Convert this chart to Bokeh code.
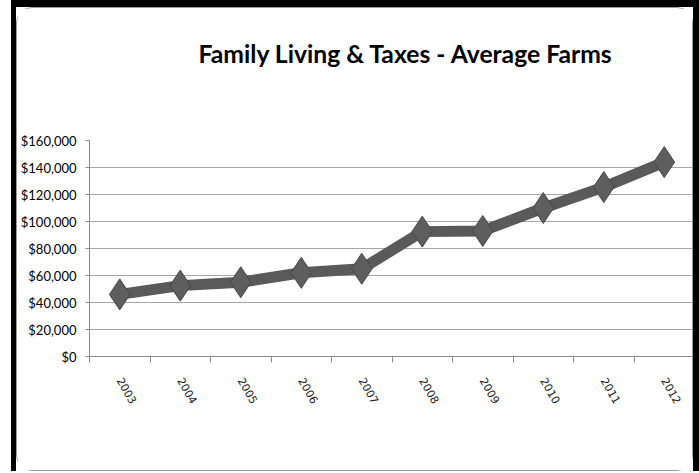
from bokeh.plotting import figure
from bokeh.layouts import column, row
from bokeh.models import FixedTicker, NumeralTickFormatter, Range1d, Spacer
from bokeh.embed import file_html
from bokeh.resources import INLINE

# ---- data ----
years = ["2003", "2004", "2005", "2006", "2007", "2008", "2009", "2010", "2011", "2012"]
values = [46000, 52500, 55000, 62000, 65000, 92500, 93000, 110000, 125500, 144000]
y_ticks = [0, 20000, 40000, 60000, 80000, 100000, 120000, 140000, 160000]
title_text = "Family Living & Taxes - Average Farms"

xs = list(range(len(years)))

p = figure(frame_width=603, frame_height=214,
           min_border_left=71, min_border_right=0,
           min_border_top=132, min_border_bottom=116,
           x_range=Range1d(-0.5, len(years) - 0.5),
           y_range=Range1d(0, 160000),
           output_backend="svg", toolbar_location=None,
           tools="", title=title_text)

p.background_fill_color = "white"
p.border_fill_color = "white"
p.outline_line_color = None
p.styles = {"border": "1px solid #9a9a9a", "border-radius": "16px"}

# title
p.title.text_font = "Lato"
p.title.text_font_style = "bold"
p.title.text_font_size = "24.7px"
p.title.text_color = "#000000"
p.title.align = "left"
p.title.offset = 109
p.title.standoff = 10
p.title.padding = {"left": 0, "right": 0, "top": 0, "bottom": 68}

# grid
p.xgrid.grid_line_color = None
p.ygrid.ticker = FixedTicker(ticks=y_ticks)
p.ygrid.grid_line_color = "#a6a6a6"
p.ygrid.grid_line_width = 1

# y axis
ya = p.yaxis[0]
ya.ticker = FixedTicker(ticks=y_ticks)
ya.formatter = NumeralTickFormatter(format="$0,0")
ya.axis_line_color = "#8c8c8c"
ya.major_tick_line_color = "#8c8c8c"
ya.major_tick_out = 4
ya.major_tick_in = 0
ya.minor_tick_line_color = None
ya.major_label_text_font = "Lato"
ya.major_label_text_font_size = "13px"
ya.major_label_text_color = "#000000"
ya.major_label_standoff = 9

# x axis
xa = p.xaxis[0]
boundaries = [i - 0.5 for i in range(len(years) + 1)]
xa.ticker = FixedTicker(ticks=xs, minor_ticks=boundaries)
xa.major_label_overrides = {i: y for i, y in zip(xs, years)}
xa.axis_line_color = "#8c8c8c"
xa.major_tick_line_color = None
xa.minor_tick_line_color = "#8c8c8c"
xa.minor_tick_out = 6
xa.minor_tick_in = 0
xa.major_label_orientation = -1.05
xa.major_label_text_font = "DejaVu Sans"
xa.major_label_text_font_size = "11px"
xa.major_label_text_color = "#222222"
xa.major_label_standoff = 16

# series
p.line(xs, values, line_color="#5a5a5a", line_width=11, line_join="round")
p.scatter(xs, values, marker="diamond", size=31,
          fill_color="#5e5e5e", line_color="#474747", line_width=1)

card = column(p, styles={"border-left": "5px solid black",
                         "border-right": "7px solid black",
                         "border-top": "7px solid black",
                         "background": "white"})
layout = row(Spacer(width=11, height=471), card)

open("out.html", "w").write(file_html(layout, INLINE))
